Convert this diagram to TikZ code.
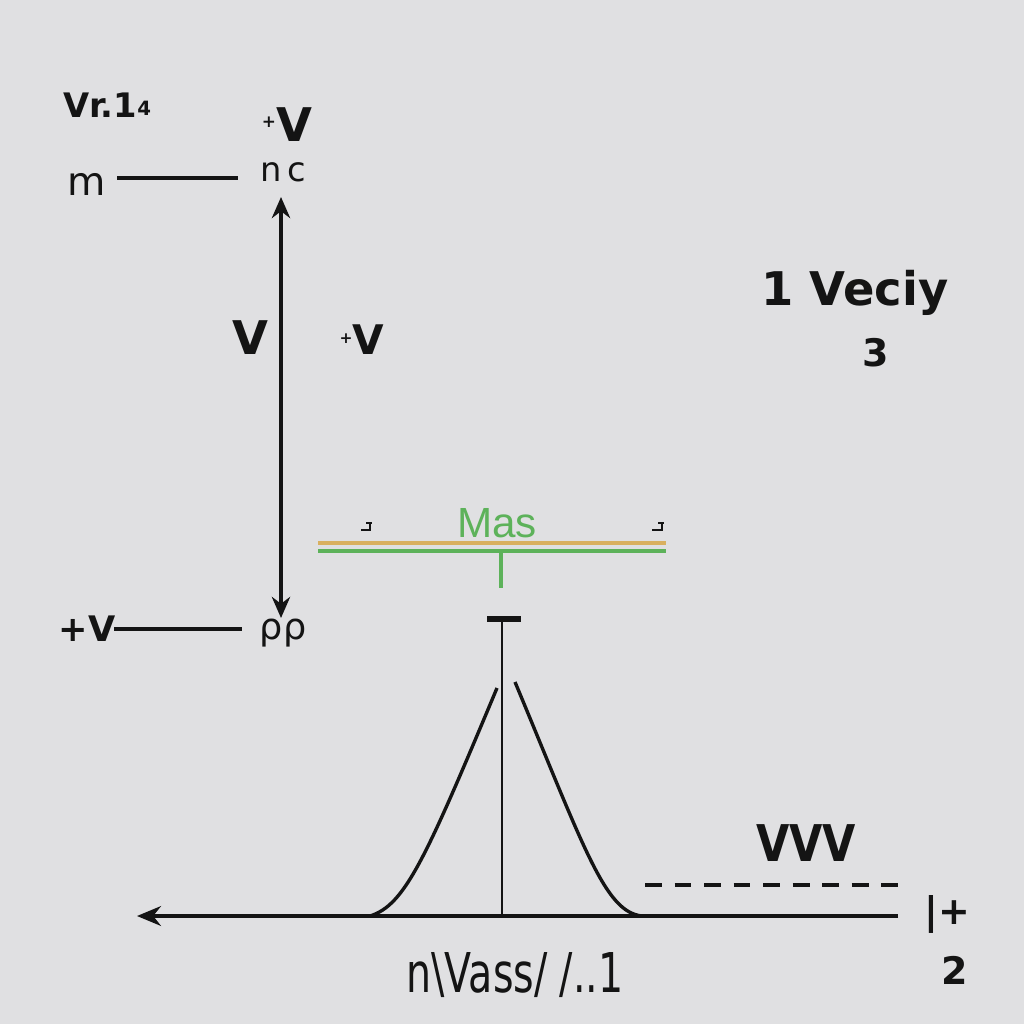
\documentclass[tikz,border=0pt]{standalone}
\usepackage{fontspec}
\setmainfont{DejaVu Sans}
\newfontfamily\lib{Liberation Sans}
\usetikzlibrary{arrows.meta}
\definecolor{bg}{HTML}{E0E0E2}
\definecolor{ink}{HTML}{141414}
\definecolor{grn}{HTML}{5DB25A}
\definecolor{org}{HTML}{D9B060}
\tikzset{
  lbl/.style={text=ink, inner sep=0pt, anchor=center},
  wire/.style={draw=ink, line width=2.4pt},
  axis/.style={draw=ink, line width=2.8pt},
  thin/.style={draw=ink, line width=1.4pt},
}
\begin{document}
\begin{tikzpicture}[x=0.025cm, y=-0.025cm]
\fill[bg] (0,0) rectangle (1024,1024);
\useasboundingbox (0,0) rectangle (1024,1024);

% top-left labels
\node[lbl, font=\bfseries\fontsize{24}{24}\selectfont] (vr) at (107,105) {Vr.1\raisebox{1pt}{\fontsize{14}{14}\selectfont 4}};
\node[lbl, font=\bfseries\fontsize{33}{33}\selectfont] (pv1) at (287,125) {\raisebox{10pt}{\fontsize{12}{12}\selectfont +}V};
\node[lbl, font=\fontsize{28}{28}\selectfont] (m) at (87,184) {m};
\node[lbl, font=\fontsize{24}{24}\selectfont] (nc) at (283,172) {n\,c};
\coordinate (mr) at (117,178);
\coordinate (ncl) at (238,178);
\draw[wire] (mr) -- (ncl);

% vertical double arrow
\coordinate (at) at (281,197);
\coordinate (ab) at (281,618);
\draw[axis, {Stealth[length=15pt,width=13pt]}-{Stealth[length=15pt,width=13pt]}] (at) -- (ab);
\node[lbl, font=\bfseries\fontsize{33}{33}\selectfont] (v2) at (250,338) {V};
\node[lbl, font=\bfseries\fontsize{29}{29}\selectfont] (pv2) at (362,340) {\raisebox{8pt}{\fontsize{11}{11}\selectfont +}V};

% bottom-left
\node[lbl, font=\bfseries\fontsize{25}{25}\selectfont] (pv3) at (87,629) {+V};
\coordinate (pvr) at (114,629);
\coordinate (rhol) at (242,629);
\draw[wire] (pvr) -- (rhol);
\node[lbl, font=\fontsize{26}{26}\selectfont] (rho) at (283,633) {ρρ};

% Mas balance
\node[lbl, text=grn, font=\lib\fontsize{30}{30}\selectfont] (mas) at (497,523) {Mas};
\draw[ink, line width=1.2pt] (361,530) -- (370,530) -- (370,524) (366,523)--(372,523);
\draw[ink, line width=1.2pt] (652,530) -- (662,530) -- (662,524) (658,523)--(664,523);
\coordinate (ol) at (318,543); \coordinate (or) at (666,543);
\coordinate (gl) at (318,551); \coordinate (gr) at (666,551);
\draw[org, line width=2.6pt] (ol) -- (or);
\draw[grn, line width=3pt] (gl) -- (gr);
\coordinate (st) at (501,551); \coordinate (sb) at (501,588);
\draw[grn, line width=3pt] (st) -- (sb);

% T stand
\coordinate (tl) at (487,619); \coordinate (tr) at (521,619);
\coordinate (tt) at (502,619); \coordinate (tb) at (502,916);
\draw[ink, line width=4.5pt] (tl) -- (tr);
\draw[thin, line width=1.8pt] (tt) -- (tb);

% bell curve
\draw[wire] (370,916) .. controls (405,905) and (425,860) .. (497,688);
\draw[wire] (515,682) .. controls (585,850) and (605,912) .. (642,916);

% axis
\coordinate (axr) at (898,916);
\coordinate (axl) at (137,916);
\draw[axis, -{Stealth[length=17pt,width=14pt]}] (axr) -- (axl);
\coordinate (dl) at (645,885); \coordinate (dr) at (902,885);
\draw[ink, line width=2.4pt, dash pattern=on 12pt off 9pt] (dl) -- (dr);

% right labels
\node[lbl, font=\bfseries\fontsize{33}{33}\selectfont] (vec) at (855,293) {1 Veciy};
\node[lbl, font=\bfseries\fontsize{27}{27}\selectfont] (three) at (876,353) {3};
\node[lbl, font=\bfseries\fontsize{36}{36}\selectfont, xscale=0.85] (vvv) at (806,843) {VVV};
\node[lbl, font=\bfseries\fontsize{27}{27}\selectfont] (ipl) at (947,914) {|+};
\node[lbl, font=\bfseries\fontsize{27}{27}\selectfont] (two) at (955,970) {2};
\node[lbl, font=\fontsize{39}{39}\selectfont, xscale=0.72] (nvass) at (515,975) {n\textbackslash Vass/ /..1};
\end{tikzpicture}
\end{document}
